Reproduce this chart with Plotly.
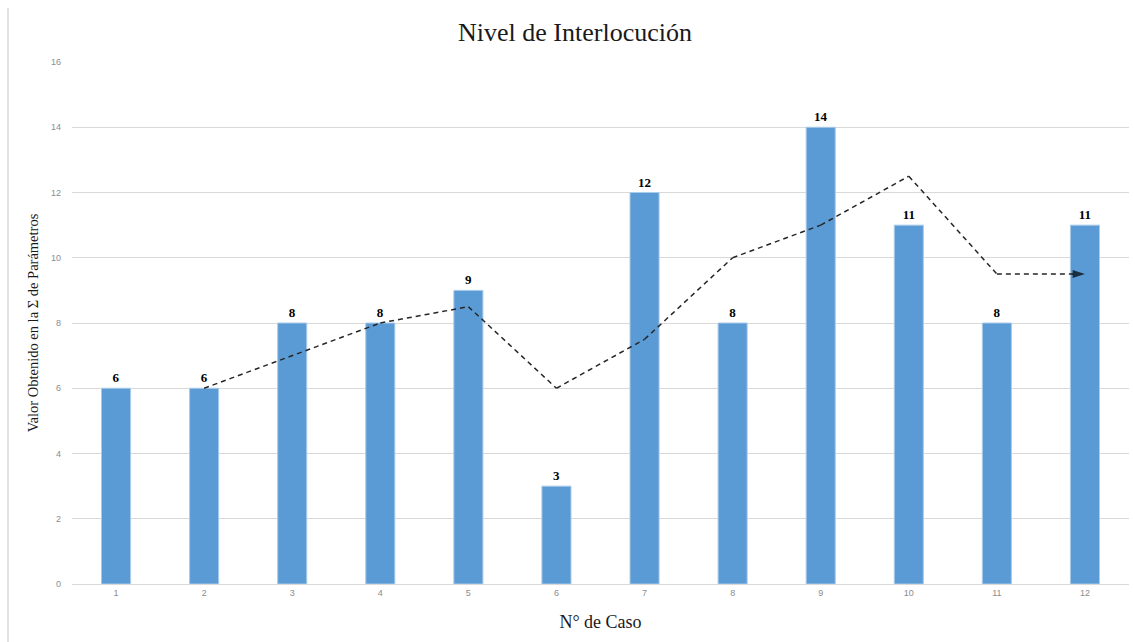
import plotly.graph_objects as go

casos = [1, 2, 3, 4, 5, 6, 7, 8, 9, 10, 11, 12]
valores = [6, 6, 8, 8, 9, 3, 12, 8, 14, 11, 8, 11]

# trend line (2-period moving average) from case 2 onward
tendencia_x = [2, 3, 4, 5, 6, 7, 8, 9, 10, 11, 12]
tendencia_y = [6, 7, 8, 8.5, 6, 7.5, 10, 11, 12.5, 9.5, 9.5]

y_ticks = [0, 2, 4, 6, 8, 10, 12, 14, 16]

serif = "Liberation Serif, Times New Roman, serif"
sans = "Liberation Sans, Arial, sans-serif"

fig = go.Figure()

fig.add_trace(go.Bar(
    x=casos,
    y=valores,
    width=0.33,
    marker=dict(color="#5B9BD5", line=dict(color="#A9CBEA", width=1)),
    text=[str(v) for v in valores],
    textposition="outside",
    textfont=dict(family=serif, size=13, color="#000000", weight="bold"),
    cliponaxis=False,
    showlegend=False,
))

fig.add_trace(go.Scatter(
    x=tendencia_x,
    y=tendencia_y,
    mode="lines+markers",
    line=dict(color="#262626", width=1.5, dash="5px,4px"),
    marker=dict(
        symbol="arrow",
        angleref="previous",
        size=[0] * (len(tendencia_x) - 1) + [13],
        color="#000000",
        line=dict(width=0),
    ),
    cliponaxis=False,
    showlegend=False,
))

fig.update_layout(
    width=1135,
    height=642,
    margin=dict(l=72, r=6, t=62, b=58),
    paper_bgcolor="white",
    plot_bgcolor="white",
    title=dict(
        text="Nivel de Interlocución",
        x=575 / 1135,
        xanchor="center",
        y=1 - 32 / 642,
        yanchor="middle",
        font=dict(family=serif, size=26, color="#1a1a1a"),
    ),
    xaxis=dict(
        tickmode="array",
        tickvals=casos,
        ticktext=[str(c) for c in casos],
        range=[0.5, 12.5],
        showgrid=False,
        showline=True,
        linecolor="#d9d9d9",
        linewidth=1,
        ticks="",
        tickfont=dict(family=sans, size=9, color="#8c8c8c"),
        title=dict(text="N° de Caso", font=dict(family=serif, size=18, color="#1a1a1a"), standoff=18),
    ),
    yaxis=dict(
        range=[0, 16],
        tickmode="array",
        tickvals=y_ticks,
        showgrid=True,
        gridcolor="#d9d9d9",
        gridwidth=1,
        zeroline=False,
        showline=False,
        ticks="",
        ticklabelstandoff=10,
        tickfont=dict(family=sans, size=9, color="#8c8c8c"),
        title=dict(text="Valor Obtenido en la Σ de Parámetros",
                   font=dict(family=serif, size=14.5, color="#1a1a1a"), standoff=8),
    ),
    bargap=0.6,
    shapes=[dict(
        type="line", xref="paper", yref="paper",
        x0=-64 / 1057, x1=-64 / 1057, y0=-58 / 522, y1=1 + 54 / 522,
        line=dict(color="#d9d9d9", width=1.5),
    )],
)

fig.write_html("out.html")
